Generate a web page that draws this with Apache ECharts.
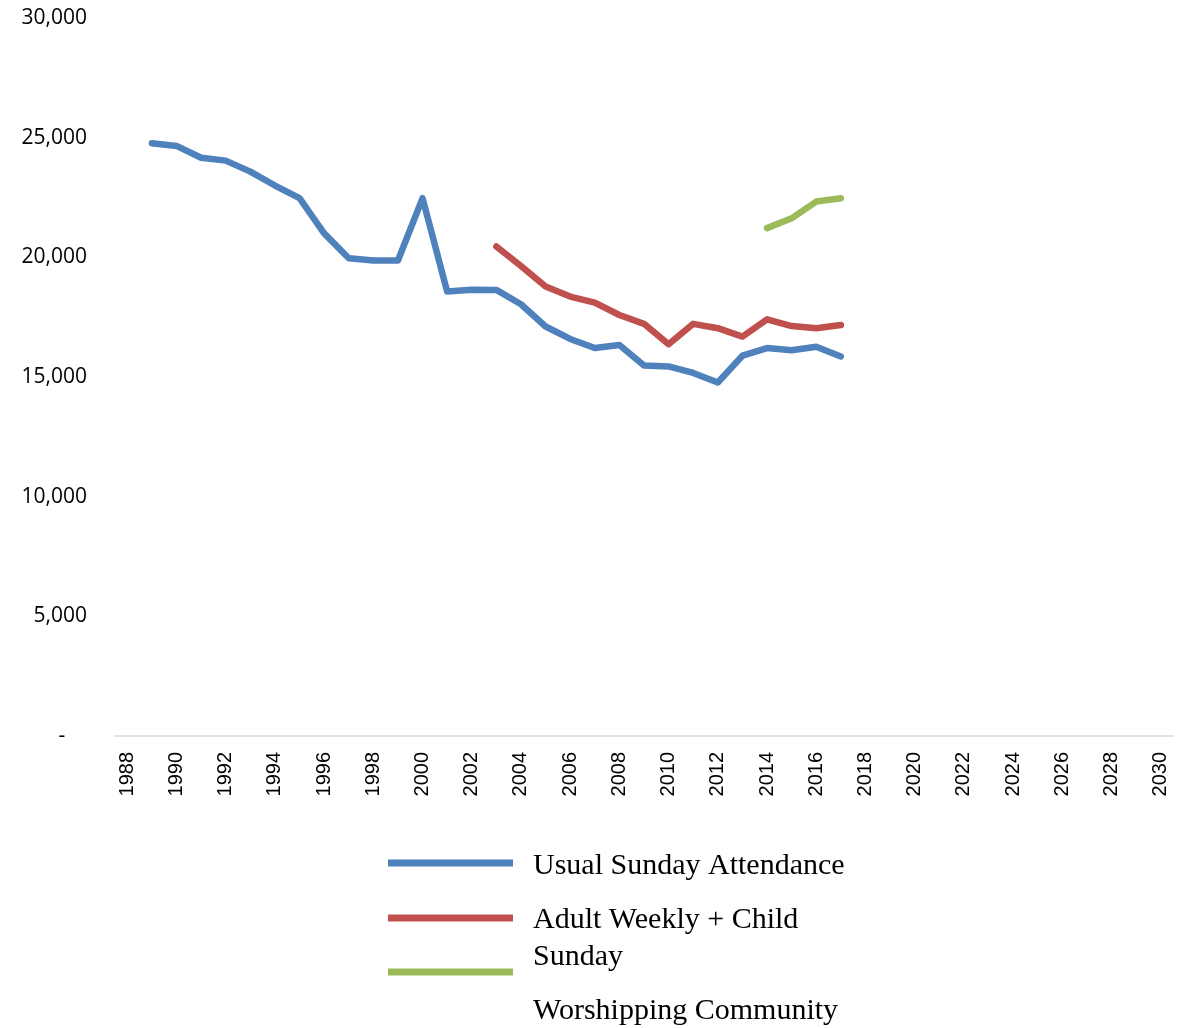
<!DOCTYPE html>
<html lang="en">
<head>
  <meta charset="UTF-8">
  <title>Attendance</title>
  <style>
    body { margin: 0; padding: 0; background: #fff; }
    #chart { width: 1191px; height: 1028px; }
  </style>
</head>
<body>
  <div id="chart"></div>
  <script src="https://cdn.jsdelivr.net/npm/echarts@6/dist/echarts.min.js"></script>
  <script>
    // years 1988..2030
    const years = [];
    for (let y = 1988; y <= 2030; y++) years.push(String(y));

    // values, 1989..2017 / 2003..2017 / 2014..2017
    const usualSunday = [
      24770, 24655, 24160, 24040, 23580, 23000, 22470, 21000, 19960, 19870,
      19870, 22470, 18570, 18650, 18640, 18040, 17110, 16590, 16210, 16340,
      15480, 15440, 15170, 14770, 15890, 16210, 16120, 16260, 15860
    ];
    const adultWeekly = [
      20450, 19640, 18780, 18360, 18110, 17590, 17220, 16370, 17220, 17040,
      16690, 17410, 17130, 17040, 17170
    ];
    const worshipping = [21220, 21630, 22330, 22470];

    const yTicks = [0, 5000, 10000, 15000, 20000, 25000, 30000];

    function pad(startYear, vals) {
      const out = years.map(() => null);
      const i0 = years.indexOf(String(startYear));
      vals.forEach((v, i) => { out[i0 + i] = v; });
      return out;
    }

    const names = ['Usual Sunday Attendance', 'Adult Weekly + Child Sunday', 'Worshipping Community'];
    const colors = ['#4f81bd', '#c0504d', '#9bbb59'];

    const chart = echarts.init(document.getElementById('chart'));

    // one legend per entry so each label can sit where the original puts it
    function legendFor(i, top, spacer, label) {
      return {
        orient: 'vertical',
        left: 388,
        top: top,
        padding: 0,
        icon: 'rect',
        itemWidth: 125,
        itemHeight: 7,
        selectedMode: false,
        data: [names[i]],
        formatter: () => '{sp| }\n' + label.map(l => '{t|' + l + '}').join('\n'),
        textStyle: {
          padding: [0, 0, 0, 15],
          rich: {
            sp: { height: spacer, lineHeight: spacer, fontSize: 1 },
            t: { fontFamily: 'Liberation Serif', fontSize: 30, color: '#000', lineHeight: 37, height: 37 }
          }
        }
      };
    }

    chart.setOption({
      animation: false,
      grid: { left: 115, right: 18, top: 18, bottom: 292 },
      legend: [
        legendFor(0, 841.5, 6, ['Usual Sunday Attendance']),
        legendFor(1, 860.5, 41, ['Adult Weekly + Child', 'Sunday']),
        legendFor(2, 914.5, 78, ['Worshipping Community'])
      ],
      xAxis: {
        type: 'category',
        data: years,
        boundaryGap: true,
        axisLine: { lineStyle: { color: '#d9d9d9', width: 1.5 } },
        axisTick: { show: false },
        axisLabel: {
          interval: 1,
          rotate: 90,
          margin: 16,
          fontFamily: 'Liberation Sans',
          fontSize: 20,
          color: '#000'
        }
      },
      yAxis: {
        type: 'value',
        min: yTicks[0],
        max: yTicks[yTicks.length - 1],
        interval: 5000,
        axisLine: { show: false },
        axisTick: { show: false },
        splitLine: { show: false },
        axisLabel: {
          margin: 28,
          fontFamily: 'Open Sans',
          fontSize: 21,
          color: '#000',
          formatter: v => v === 0 ? '-    ' : v.toLocaleString('en-US')
        }
      },
      series: [
        { name: names[0], type: 'line', data: pad(1989, usualSunday) },
        { name: names[1], type: 'line', data: pad(2003, adultWeekly) },
        { name: names[2], type: 'line', data: pad(2014, worshipping) }
      ].map((s, i) => Object.assign(s, {
        showSymbol: false,
        symbol: 'none',
        color: colors[i],
        lineStyle: { width: 6.5, color: colors[i], cap: 'round', join: 'round' }
      }))
    });
  </script>
</body>
</html>
